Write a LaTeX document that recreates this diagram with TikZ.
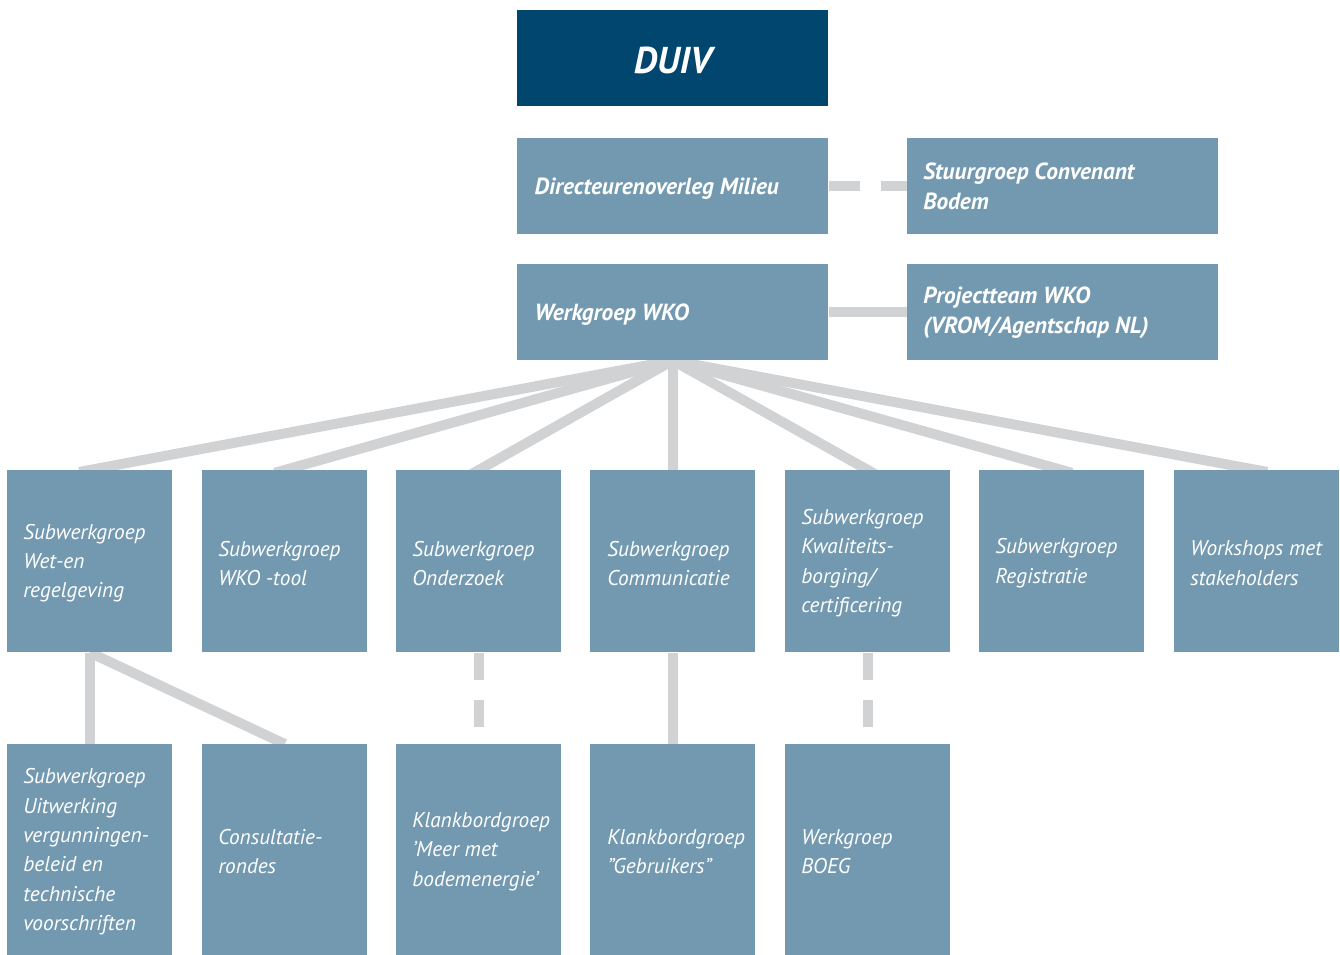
\documentclass[tikz,border=0pt]{standalone}
\usepackage{fontspec}
\setmainfont{PT Sans}
\usetikzlibrary{backgrounds}
\definecolor{dblue}{HTML}{00466E}
\definecolor{lblue}{HTML}{7399B0}
\definecolor{conncol}{HTML}{D1D2D4}
\begin{document}
\begin{tikzpicture}[x=0.75pt,y=-0.75pt,
  topbox/.style={fill=lblue, inner sep=0pt, anchor=north west, minimum width=233.25pt, minimum height=72pt},
  midbox/.style={fill=lblue, inner sep=0pt, anchor=north west, minimum width=123.75pt, minimum height=136.5pt},
  lowbox/.style={fill=lblue, inner sep=0pt, anchor=north west, minimum width=123.75pt, minimum height=158.25pt},
  lbl/.style={text=white, font=\fontsize{16}{22}\selectfont\itshape, align=left, anchor=west, inner sep=0pt},
  blbl/.style={text=white, font=\fontsize{17.5}{22.5}\selectfont\bfseries\itshape, align=left, anchor=west, inner sep=0pt},
  conn/.style={draw=conncol, line width=7.5pt},
  fanconn/.style={draw=conncol, line width=7.5pt, shorten <=-6pt, shorten >=-8pt},
  dconn/.style={draw=conncol, line width=7.5pt, dash pattern=on 23.25pt off 15.75pt},
  vdconn/.style={draw=conncol, line width=7.5pt, dash pattern=on 20.25pt off 15pt, shorten >=12.75pt}
]
\useasboundingbox (0,0) rectangle (1340,955);
% top
\node[topbox, fill=dblue] (duiv) at (517,10) {};
\node[text=white, font=\fontsize{28}{34}\selectfont\bfseries\itshape, inner sep=0pt] (duivt) at ([yshift=-1.5pt]duiv.center) {DUIV};
\node[topbox] (dir) at (517,138) {};
\node[blbl] (dirt) at ([xshift=13pt,yshift=-1.5pt]dir.west) {Directeurenoverleg Milieu};
\node[topbox] (stuur) at (907,138) {};
\node[blbl] (stuurt) at ([xshift=12pt]stuur.west) {Stuurgroep Convenant\\Bodem};
\node[topbox] (wko) at (517,264) {};
\node[blbl] (wkot) at ([xshift=13pt,yshift=-1.5pt]wko.west) {Werkgroep WKO};
\node[topbox] (proj) at (907,264) {};
\node[blbl] (projt) at ([xshift=12pt]proj.west) {Projectteam WKO\\(VROM/Agentschap NL)};
% row 2
\node[midbox] (s1) at (7,470) {};
\node[midbox] (s2) at (202,470) {};
\node[midbox] (s3) at (396,470) {};
\node[midbox] (s4) at (590,470) {};
\node[midbox] (s5) at (785,470) {};
\node[midbox] (s6) at (979,470) {};
\node[midbox] (s7) at (1174,470) {};
\node[lbl] (s1t) at ([xshift=12pt,yshift=-1.5pt]s1.west) {Subwerkgroep\\Wet-en\\regelgeving};
\node[lbl] (s2t) at ([xshift=12pt,yshift=-1.5pt]s2.west) {Subwerkgroep\\WKO -tool};
\node[lbl] (s3t) at ([xshift=12pt,yshift=-1.5pt]s3.west) {Subwerkgroep\\Onderzoek};
\node[lbl] (s4t) at ([xshift=12.75pt,yshift=-1.5pt]s4.west) {Subwerkgroep\\Communicatie};
\node[lbl] (s5t) at ([xshift=12pt,yshift=-1.5pt]s5.west) {Subwerkgroep\\Kwaliteits-\\borging/\\certificering};
\node[lbl] (s6t) at ([xshift=12pt,yshift=-1.5pt]s6.west) {Subwerkgroep\\Registratie};
\node[lbl] (s7t) at ([xshift=12pt,yshift=-1.5pt]s7.west) {Workshops met\\stakeholders};
% row 3
\node[lowbox] (k1) at (7,744) {};
\node[lowbox] (k2) at (202,744) {};
\node[lowbox] (k3) at (396,744) {};
\node[lowbox] (k4) at (590,744) {};
\node[lowbox] (k5) at (785,744) {};
\node[lbl] (k1t) at ([xshift=12pt,yshift=-1.5pt]k1.west) {Subwerkgroep\\Uitwerking\\vergunningen-\\beleid en\\technische\\voorschriften};
\node[lbl] (k2t) at ([xshift=12pt,yshift=-1.5pt]k2.west) {Consultatie-\\rondes};
\node[lbl] (k3t) at ([xshift=12pt,yshift=-1.5pt]k3.west) {Klankbordgroep\\’Meer met\\bodemenergie’};
\node[lbl] (k4t) at ([xshift=12.75pt,yshift=-1.5pt]k4.west) {Klankbordgroep\\”Gebruikers”};
\node[lbl] (k5t) at ([xshift=12pt,yshift=-1.5pt]k5.west) {Werkgroep\\BOEG};
% connectors
\begin{pgfonlayer}{background}
  \draw[dconn] (dir.east) -- (stuur.west);
  \draw[conn] (wko.east) -- (proj.west);
  \foreach \s in {s1,s2,s3,s4,s5,s6,s7}
    \draw[fanconn] (wko.south) -- (\s.north);
  \draw[conn] (s1.south) -- (k1.north);
  \draw[conn] (s1.south) -- (k2.north);
  \draw[vdconn] (s3.south) -- (k3.north);
  \draw[conn] (s4.south) -- (k4.north);
  \draw[vdconn] (s5.south) -- (k5.north);
\end{pgfonlayer}
\end{tikzpicture}
\end{document}
